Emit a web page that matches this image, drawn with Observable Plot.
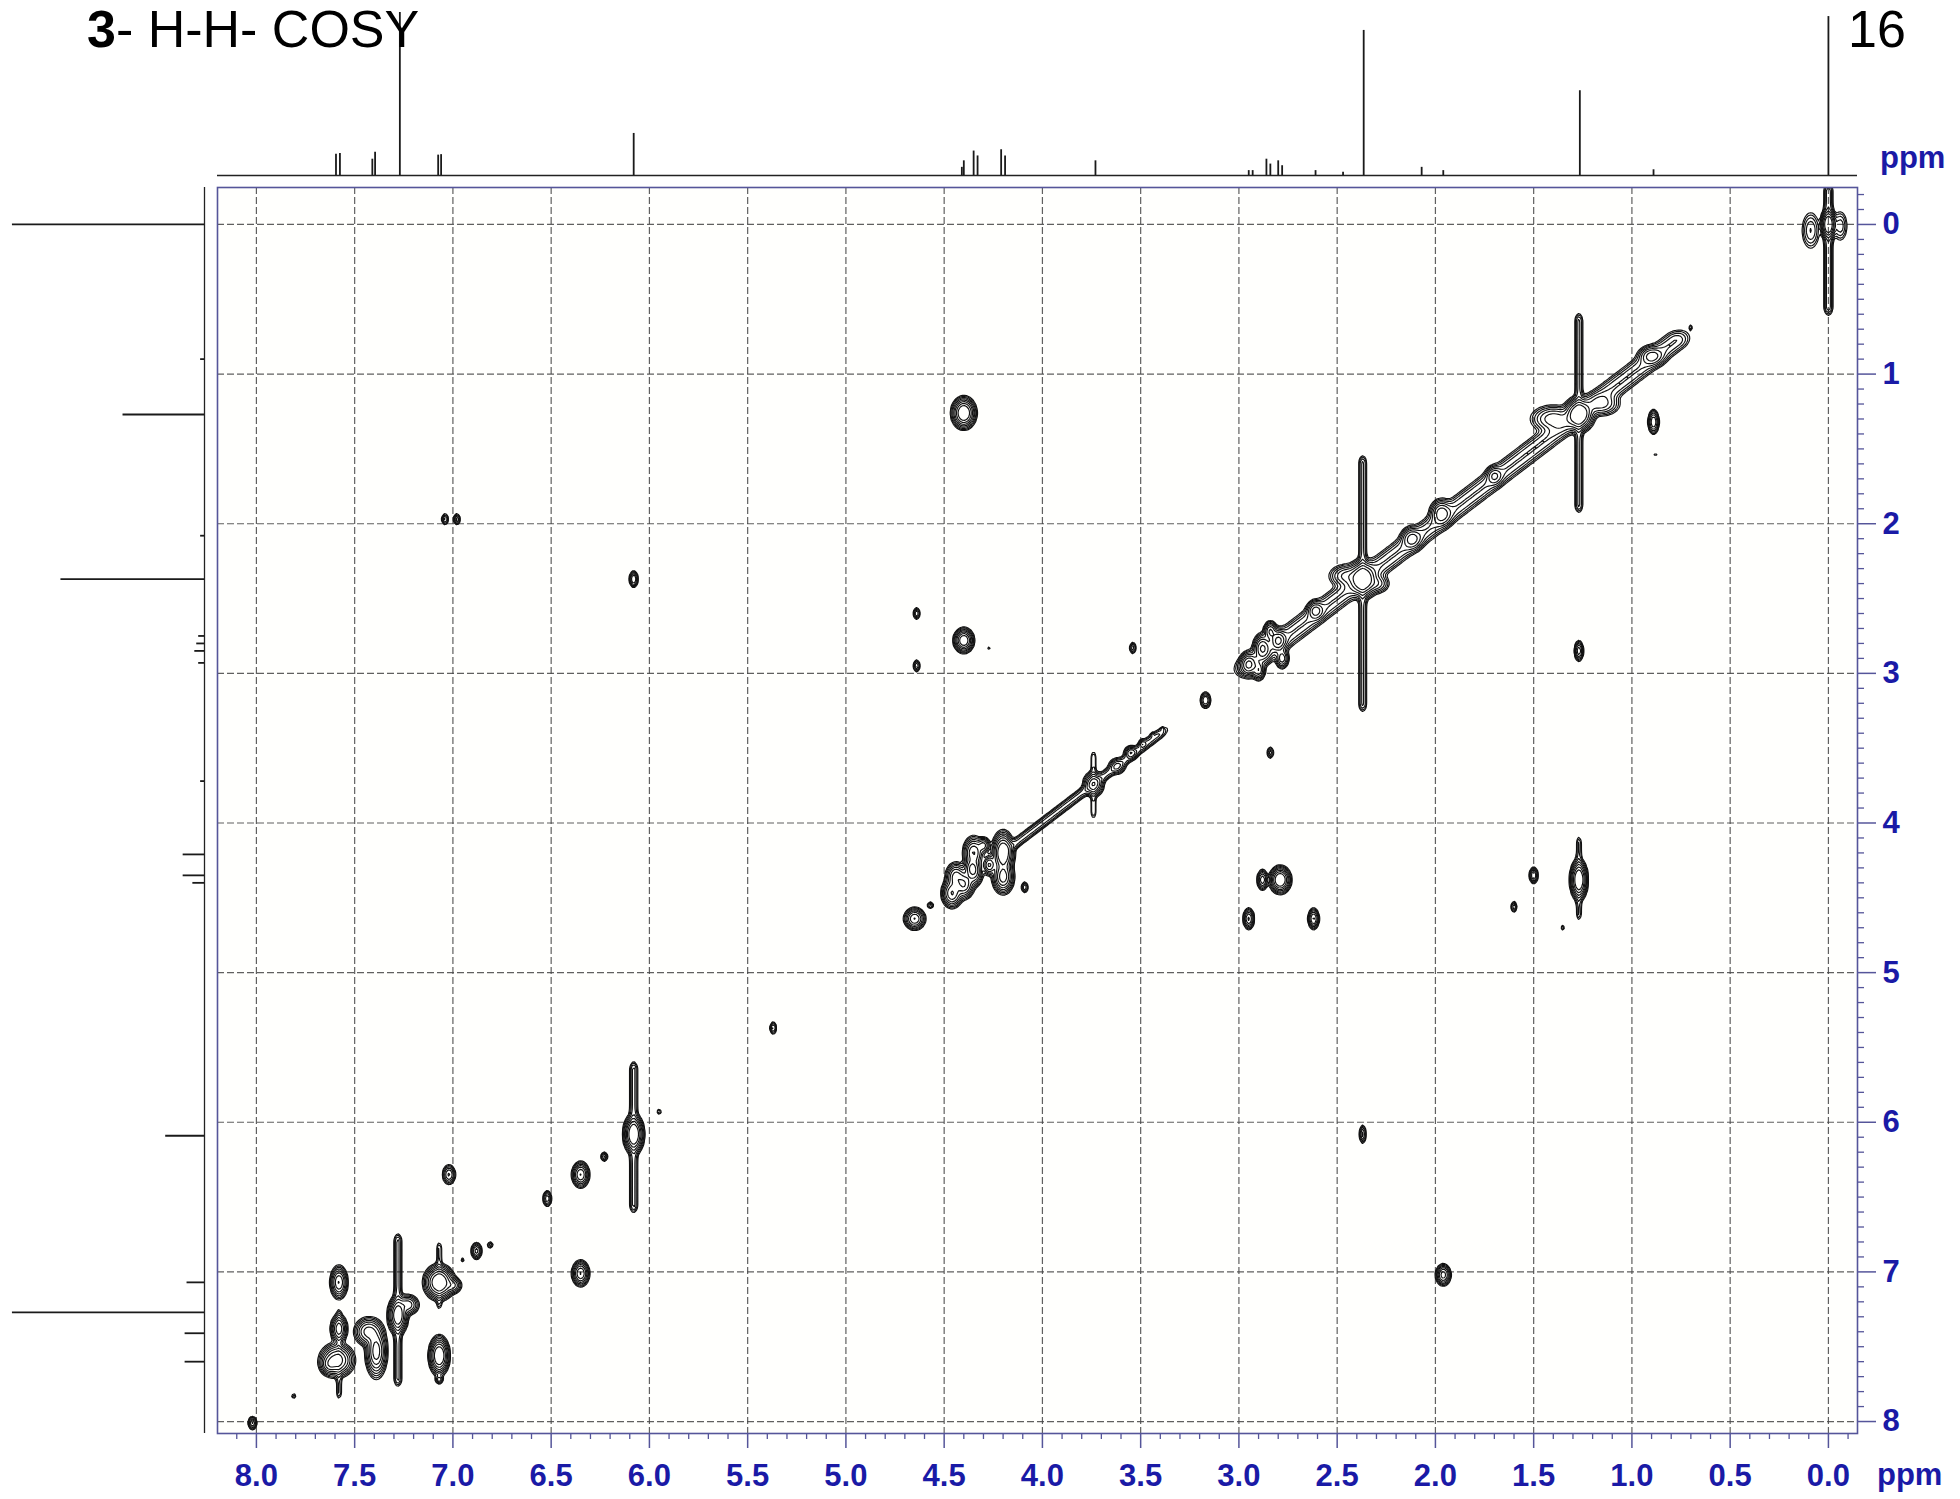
<!DOCTYPE html>
<html>
<head>
<meta charset="utf-8">
<script src="https://cdn.jsdelivr.net/npm/d3@7"></script>
<script src="https://cdn.jsdelivr.net/npm/@observablehq/plot@0.6"></script>
<style>
  html, body { margin: 0; padding: 0; background: #ffffff; }
  #wrap { position: relative; width: 1960px; height: 1499px; font-family: "Liberation Sans", Arial, sans-serif; overflow: hidden; }
  #wrap svg { position: absolute; left: 0; top: 0; max-width: none; }
  .lab { position: absolute; white-space: nowrap; }
  .title { font-size: 52px; line-height: 52px; color: #000; }
  .ppm { font-size: 31px; line-height: 31px; font-weight: bold; color: #1a1aa6; }
</style>
</head>
<body>
<div id="wrap">
  <div class="lab title" style="left:87px;top:3px;"><b>3</b>- H-H- COSY</div>
  <div class="lab title" style="left:1848px;top:3px;">16</div>
  <div class="lab ppm" style="left:1880px;top:142px;">ppm</div>
  <div class="lab ppm" style="left:1877px;top:1459px;">ppm</div>
</div>
<script>
// ---------- axes / domains ----------
const xDomain = [8.198, -0.148];          // F2 (ppm), high field to the right
const yDomain = [-0.247, 8.08];           // F1 (ppm), increasing downward
const xMajorTicks = [8.0, 7.5, 7.0, 6.5, 6.0, 5.5, 5.0, 4.5, 4.0, 3.5, 3.0, 2.5, 2.0, 1.5, 1.0, 0.5, 0.0];
const yMajorTicks = [0, 1, 2, 3, 4, 5, 6, 7, 8];
const xMinorTicks = d3.range(-1, 82).map(i => i / 10).filter(v => Math.abs(v * 2 - Math.round(v * 2)) > 1e-6);
const yMinorTicks = d3.range(-2, 81).map(i => i / 10).filter(v => Math.abs(v - Math.round(v)) > 1e-6);

// ---------- 1D projections (ppm, relative height) ----------
const topSpectrumPpm = [7.595, 7.575, 7.41, 7.396, 7.27, 7.075, 7.06, 6.08, 4.41, 4.40, 4.35, 4.33, 4.21, 4.19, 3.73,
  2.95, 2.93, 2.86, 2.84, 2.80, 2.78, 2.61, 2.47, 2.365, 2.07, 1.96, 1.265, 0.89, 0.0];
const topSpectrumHeight = [0.13, 0.135, 0.10, 0.143, 1.0, 0.125, 0.128, 0.258, 0.05, 0.09, 0.15, 0.12, 0.158, 0.12, 0.09,
  0.03, 0.03, 0.10, 0.07, 0.09, 0.06, 0.03, 0.02, 0.89, 0.05, 0.03, 0.52, 0.035, 0.975];
const leftSpectrumPpm = [0.0, 0.90, 1.27, 2.08, 2.37, 2.75, 2.80, 2.85, 2.93, 3.72, 4.21, 4.35, 4.40, 6.09, 7.07, 7.27, 7.41, 7.60];
const leftSpectrumHeight = [0.99, 0.02, 0.42, 0.02, 0.74, 0.03, 0.04, 0.05, 0.03, 0.02, 0.11, 0.11, 0.06, 0.20, 0.09, 0.99, 0.10, 0.10];

// ---------- 2D COSY peaks: [F2 ppm, F1 ppm, width F2, width F1, intensity] ----------
const diagonalPeaks = [
  [8.02, 8.01, 0.010, 0.020, 0.6], [7.81, 7.83, 0.006, 0.010, 0.15],
  [7.59, 7.59, 0.035, 0.045, 2.0], [7.63, 7.62, 0.020, 0.030, 0.8],
  [7.43, 7.40, 0.030, 0.040, 1.2], [7.28, 7.29, 0.020, 0.050, 2.5], [7.23, 7.22, 0.025, 0.030, 0.8],
  [7.07, 7.07, 0.030, 0.045, 3.0], [7.00, 7.09, 0.020, 0.025, 0.6],
  [6.95, 6.92, 0.005, 0.008, 0.15], [6.88, 6.86, 0.012, 0.025, 0.7], [6.81, 6.82, 0.008, 0.012, 0.2],
  [6.52, 6.51, 0.010, 0.025, 0.5], [6.35, 6.35, 0.018, 0.035, 1.5], [6.23, 6.23, 0.008, 0.015, 0.4],
  [6.08, 6.08, 0.020, 0.050, 3.0], [5.95, 5.93, 0.005, 0.010, 0.2], [5.37, 5.37, 0.008, 0.020, 0.4],
  [4.65, 4.64, 0.022, 0.030, 1.5], [4.57, 4.55, 0.008, 0.012, 0.25],
  [4.46, 4.47, 0.022, 0.040, 1.5], [4.40, 4.41, 0.022, 0.040, 1.5], [4.35, 4.33, 0.020, 0.040, 1.2],
  [4.27, 4.28, 0.015, 0.030, 1.0], [4.20, 4.20, 0.022, 0.055, 3.0],
  [3.74, 3.74, 0.022, 0.035, 1.2], [3.62, 3.62, 0.020, 0.025, 0.5], [3.55, 3.53, 0.015, 0.020, 0.8],
  [3.49, 3.47, 0.010, 0.015, 0.4],
  [3.44, 3.41, 0.005, 0.008, 0.2], [3.39, 3.37, 0.005, 0.008, 0.15], [3.17, 3.18, 0.012, 0.025, 0.6],
  [2.95, 2.94, 0.020, 0.035, 1.5], [2.88, 2.83, 0.020, 0.040, 1.5], [2.80, 2.78, 0.020, 0.035, 1.5],
  [2.84, 2.72, 0.015, 0.030, 1.0], [2.90, 2.98, 0.015, 0.030, 0.8], [2.78, 2.90, 0.015, 0.030, 0.8],
  [2.61, 2.58, 0.020, 0.030, 1.0], [2.37, 2.37, 0.030, 0.050, 3.0], [2.45, 2.35, 0.040, 0.035, 0.7],
  [2.30, 2.40, 0.030, 0.030, 0.5], [2.12, 2.10, 0.025, 0.035, 1.0], [1.97, 1.93, 0.025, 0.040, 1.2],
  [1.70, 1.68, 0.020, 0.030, 0.8], [1.27, 1.27, 0.030, 0.045, 3.0], [1.40, 1.30, 0.050, 0.040, 0.8],
  [1.15, 1.20, 0.040, 0.035, 0.6], [0.90, 0.88, 0.030, 0.030, 1.0], [0.70, 0.69, 0.005, 0.012, 0.15],
  [0.00, 0.00, 0.015, 0.040, 3.0], [0.09, 0.04, 0.022, 0.060, 0.35], [-0.06, 0.01, 0.018, 0.050, 0.3]
];
const crossPeaks = [
  [7.58, 7.07, 0.018, 0.045, 1.5], [7.58, 7.38, 0.018, 0.040, 1.2], [7.39, 7.53, 0.022, 0.070, 2.0],
  [7.07, 7.56, 0.020, 0.050, 3.0], [7.07, 7.72, 0.010, 0.015, 0.3], [7.02, 6.35, 0.015, 0.030, 0.6],
  [6.35, 7.01, 0.018, 0.035, 1.5], [7.04, 1.97, 0.008, 0.018, 0.4], [6.98, 1.97, 0.008, 0.018, 0.4],
  [1.96, 7.02, 0.016, 0.030, 1.2], [6.08, 2.37, 0.010, 0.025, 0.6], [2.37, 6.08, 0.008, 0.030, 0.4],
  [4.40, 1.26, 0.024, 0.041, 3.0], [4.40, 2.78, 0.020, 0.032, 2.5], [4.27, 2.83, 0.004, 0.008, 0.15],
  [4.64, 2.60, 0.008, 0.020, 0.35], [4.64, 2.95, 0.008, 0.020, 0.35], [3.54, 2.83, 0.008, 0.020, 0.3],
  [2.84, 3.53, 0.008, 0.020, 0.3], [1.27, 2.85, 0.010, 0.030, 0.8], [0.89, 1.32, 0.012, 0.035, 0.9],
  [0.88, 1.54, 0.004, 0.008, 0.15], [1.27, 4.38, 0.017, 0.052, 3.0], [2.79, 4.38, 0.021, 0.035, 3.0],
  [2.88, 4.38, 0.012, 0.030, 0.8], [2.95, 4.64, 0.012, 0.030, 1.0], [2.62, 4.64, 0.012, 0.030, 1.0],
  [1.50, 4.35, 0.010, 0.025, 0.6], [1.60, 4.56, 0.007, 0.018, 0.35], [1.35, 4.70, 0.004, 0.010, 0.2],
  [4.09, 4.43, 0.008, 0.018, 0.35], [4.44, 4.36, 0.022, 0.040, 1.2], [4.35, 4.20, 0.022, 0.045, 1.5],
  [4.36, 4.30, 0.018, 0.030, 1.0], [4.20, 4.36, 0.022, 0.045, 2.0], [4.30, 4.15, 0.015, 0.025, 0.7]
];
// t1-noise streaks: [F2 ppm, F1 from, F1 to, width F2, intensity]
const t1Streaks = [
  [0.00, -0.22, 0.55, 0.012, 0.30], [1.27, 0.65, 1.87, 0.011, 0.25], [2.37, 1.60, 3.20, 0.011, 0.25],
  [6.08, 5.65, 6.55, 0.011, 0.25], [7.28, 6.80, 7.71, 0.011, 0.25], [3.74, 3.57, 3.92, 0.008, 0.15],
  [1.27, 4.14, 4.60, 0.008, 0.15], [7.07, 6.85, 7.20, 0.008, 0.15], [7.58, 7.30, 7.80, 0.008, 0.15]
];
// diagonal ridges: [from ppm, to ppm, half width across diagonal, intensity]
const diagonalRidges = [
  [0.78, 2.95, 0.045, 0.35],
  [3.42, 4.15, 0.022, 0.25]
];
const contourLevels = [0.05, 0.08, 0.13, 0.21, 0.34, 0.55, 0.9, 1.45];

const allPeaks = diagonalPeaks.concat(crossPeaks);
function intensity(x, y) {
  let s = 0;
  for (let i = 0; i < allPeaks.length; i++) {
    const p = allPeaks[i];
    const dx = (x - p[0]) / p[2];
    if (dx > 5 || dx < -5) continue;
    const dy = (y - p[1]) / p[3];
    if (dy > 5 || dy < -5) continue;
    s += p[4] * Math.exp(-0.5 * (dx * dx + dy * dy));
  }
  for (let i = 0; i < t1Streaks.length; i++) {
    const t = t1Streaks[i];
    const dx = (x - t[0]) / t[3];
    if (dx > 5 || dx < -5) continue;
    const dy = y < t[1] ? (t[1] - y) / 0.03 : y > t[2] ? (y - t[2]) / 0.03 : 0;
    if (dy > 5) continue;
    s += t[4] * Math.exp(-0.5 * (dx * dx + dy * dy));
  }
  for (let i = 0; i < diagonalRidges.length; i++) {
    const r = diagonalRidges[i];
    const v = (x - y) / r[2];
    if (v > 5 || v < -5) continue;
    const u = (x + y) / 2;
    const du = u < r[0] ? (r[0] - u) / 0.03 : u > r[1] ? (u - r[1]) / 0.03 : 0;
    if (du > 5) continue;
    s += r[3] * Math.exp(-0.5 * (v * v + du * du));
  }
  return s;
}

const navy = "#55559a";
const blue = "#1a1aa6";
const fontFamily = "'Liberation Sans', Arial, sans-serif";

const W = 1960, H = 1499, ML = 217, MR = 103, MT = 187, MB = 66;

const main = Plot.plot({
  width: W, height: H,
  marginLeft: ML, marginRight: MR, marginTop: MT, marginBottom: MB,
  style: {fontFamily, background: "transparent", overflow: "visible"},
  x: {domain: xDomain, axis: null},
  y: {domain: yDomain, reverse: true, axis: null},
  marks: [
    Plot.frame({fill: "#fffffd", stroke: null}),
    Plot.gridX(xMajorTicks, {stroke: "#444", strokeOpacity: 0.85, strokeDasharray: "7,3", strokeWidth: 1.2}),
    Plot.gridY(yMajorTicks, {stroke: "#444", strokeOpacity: 0.85, strokeDasharray: "7,3", strokeWidth: 1.2}),
    Plot.contour({
      value: intensity,
      x1: xDomain[0], x2: xDomain[1], y1: yDomain[0], y2: yDomain[1],
      thresholds: contourLevels,
      pixelSize: 2,
      fill: "none", stroke: "#111", strokeWidth: 1.15
    }),
    Plot.frame({stroke: navy, strokeWidth: 1.6}),
    Plot.axisX(xMinorTicks, {anchor: "bottom", tickSize: 6, tickFormat: () => "", stroke: navy, strokeWidth: 1.3, label: null}),
    Plot.axisX(xMajorTicks, {anchor: "bottom", tickSize: 15, tickPadding: 15, tickFormat: d => d.toFixed(1),
      stroke: navy, strokeWidth: 1.5, fill: blue, fontSize: 31, fontWeight: "bold", label: null}),
    Plot.axisY(yMinorTicks, {anchor: "right", tickSize: 6, tickFormat: () => "", stroke: navy, strokeWidth: 1.3, label: null}),
    Plot.axisY(yMajorTicks, {anchor: "right", tickSize: 18, tickPadding: 7, tickFormat: d => String(d),
      stroke: navy, strokeWidth: 1.5, fill: blue, fontSize: 31, fontWeight: "bold", label: null})
  ]
});

const topData = topSpectrumPpm.map((p, i) => ({ppm: p, h: topSpectrumHeight[i]}));
const topPlot = Plot.plot({
  width: W, height: 185,
  marginLeft: ML, marginRight: MR, marginTop: 12, marginBottom: 10,
  style: {background: "transparent", overflow: "visible"},
  x: {domain: xDomain, axis: null},
  y: {domain: [0, 1], axis: null},
  marks: [
    Plot.ruleY([0], {stroke: "#222", strokeWidth: 1.3}),
    Plot.ruleX(topData, {x: "ppm", y1: 0, y2: "h", stroke: "#1a1a1a", strokeWidth: 1.8})
  ]
});

const leftData = leftSpectrumPpm.map((p, i) => ({ppm: p, h: leftSpectrumHeight[i]}));
const leftPlot = Plot.plot({
  width: ML, height: H,
  marginLeft: 0, marginRight: 0, marginTop: MT, marginBottom: MB,
  style: {background: "transparent", overflow: "visible"},
  x: {domain: [0, 1], range: [204, 10], axis: null},
  y: {domain: yDomain, reverse: true, axis: null},
  marks: [
    Plot.ruleX([0], {stroke: "#222", strokeWidth: 1.3}),
    Plot.ruleY(leftData, {y: "ppm", x1: 0, x2: "h", stroke: "#1a1a1a", strokeWidth: 1.8})
  ]
});

const wrap = document.getElementById("wrap");
wrap.insertBefore(main, wrap.firstChild);
wrap.insertBefore(topPlot, main.nextSibling);
wrap.insertBefore(leftPlot, topPlot.nextSibling);
</script>
</body>
</html>
